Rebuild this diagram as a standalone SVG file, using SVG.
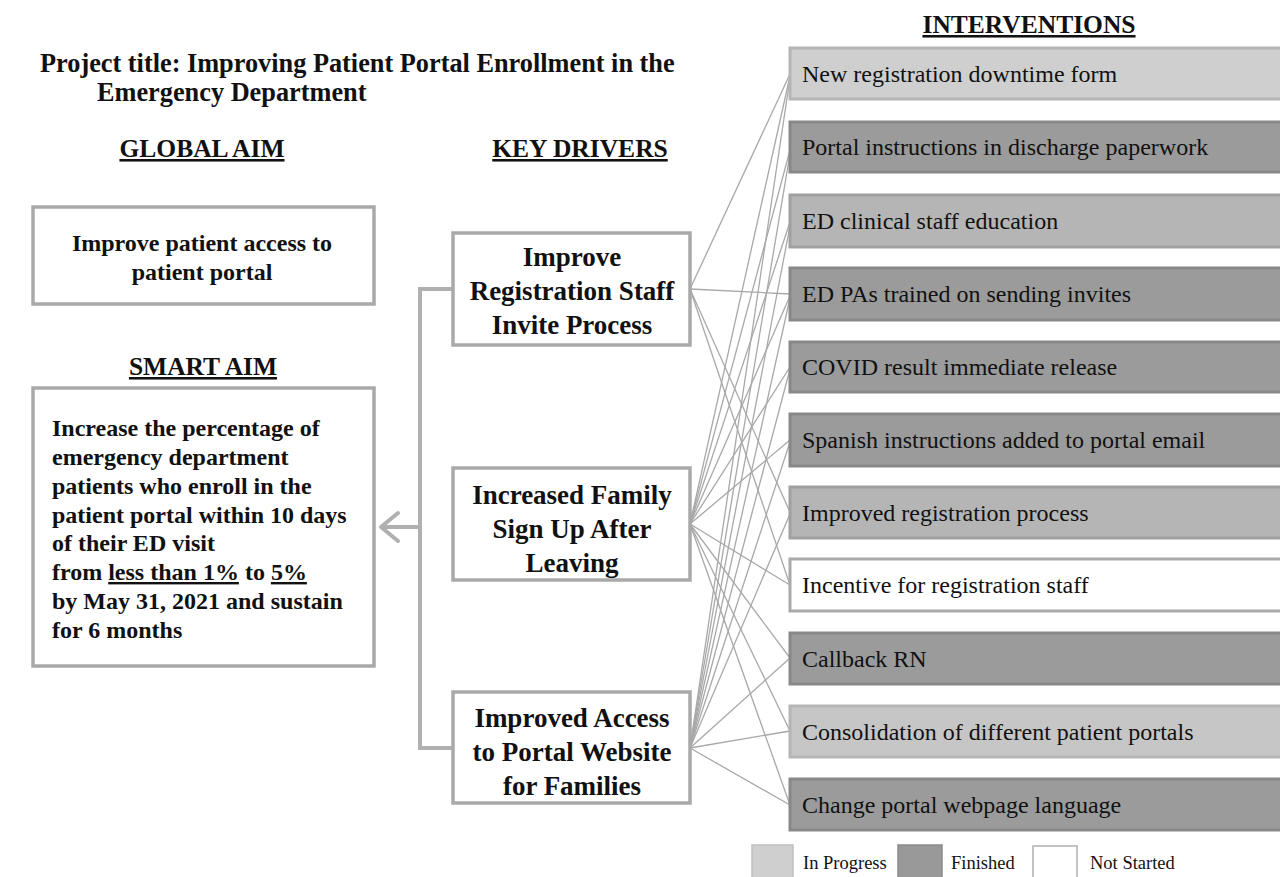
<svg xmlns="http://www.w3.org/2000/svg" width="1280" height="877" viewBox="0 0 1280 877">
<style>
.t{font-family:"Liberation Serif","Times New Roman","DejaVu Serif",serif;fill:#111}
.b{font-weight:bold}
.u{text-decoration:underline}
.hdr{font-family:"Liberation Serif","Times New Roman",serif;font-weight:bold;font-size:25.5px;fill:#111;text-decoration:underline;text-anchor:middle}
.box{fill:#fff;stroke:#a9a9a9;stroke-width:3.5}
.drv{font-family:"Liberation Serif","Times New Roman",serif;font-weight:bold;font-size:27px;fill:#111;text-anchor:middle}
.aim{font-family:"Liberation Serif","Times New Roman",serif;font-weight:bold;font-size:24px;fill:#111}
.iv{font-family:"Liberation Serif","Times New Roman",serif;font-size:24px;fill:#111}
.ip{fill:#cfcfcf;stroke:#b5b5b5;stroke-width:3}
.ip2{fill:#b5b5b5;stroke:#a0a0a0;stroke-width:3}
.fin{fill:#9b9b9b;stroke:#888;stroke-width:3}
.ns{fill:#fff;stroke:#a9a9a9;stroke-width:3}
.con line{stroke:#a8a8a8;stroke-width:1.3}
.lg{font-family:"Liberation Serif","Times New Roman",serif;font-size:18.5px;fill:#111}
</style>
<rect width="1280" height="877" fill="#fff"/>

<g id="title">
<text class="t b" x="40" y="72" font-size="26.3">Project title: Improving Patient Portal Enrollment in the</text>
<text class="t b" x="97" y="101" font-size="26.3">Emergency Department</text>
</g>
<text class="hdr" x="202" y="157">GLOBAL AIM</text>
<text class="hdr" x="580" y="157">KEY DRIVERS</text>
<text class="hdr" x="1029" y="33">INTERVENTIONS</text>
<text class="hdr" x="203" y="375">SMART AIM</text>

<g id="connectors" class="con">
<path d="M453,289 H420 V748 H453" fill="none" stroke="#b0b0b0" stroke-width="4"/>
<path d="M420,527 H382" fill="none" stroke="#b0b0b0" stroke-width="4"/>
<path d="M398,513 L381,527 L398,541" fill="none" stroke="#b0b0b0" stroke-width="4" stroke-linejoin="round" stroke-linecap="round"/>
<!-- driver 1 -->
<line x1="690" y1="289" x2="790" y2="74"/>
<line x1="690" y1="289" x2="790" y2="294"/>
<line x1="690" y1="289" x2="790" y2="512"/>
<line x1="690" y1="289" x2="790" y2="585"/>
<!-- driver 2 -->
<line x1="690" y1="524" x2="790" y2="76"/>
<line x1="690" y1="524" x2="790" y2="150"/>
<line x1="690" y1="524" x2="790" y2="222"/>
<line x1="690" y1="524" x2="790" y2="296"/>
<line x1="690" y1="524" x2="790" y2="367"/>
<line x1="690" y1="524" x2="790" y2="440"/>
<line x1="690" y1="524" x2="790" y2="585"/>
<line x1="690" y1="524" x2="790" y2="658"/>
<line x1="690" y1="524" x2="790" y2="731"/>
<line x1="690" y1="524" x2="790" y2="805"/>
<!-- driver 3 -->
<line x1="690" y1="748" x2="790" y2="78"/>
<line x1="690" y1="748" x2="790" y2="154"/>
<line x1="690" y1="748" x2="790" y2="226"/>
<line x1="690" y1="748" x2="790" y2="298"/>
<line x1="690" y1="748" x2="790" y2="369"/>
<line x1="690" y1="748" x2="790" y2="442"/>
<line x1="690" y1="748" x2="790" y2="514"/>
<line x1="690" y1="748" x2="790" y2="658"/>
<line x1="690" y1="748" x2="790" y2="731"/>
<line x1="690" y1="748" x2="790" y2="805"/>
</g>

<g id="global-aim">
<rect class="box" x="33" y="207" width="341" height="97"/>
<text class="aim" x="202" y="251" text-anchor="middle">Improve patient access to</text>
<text class="aim" x="202" y="280" text-anchor="middle">patient portal</text>
</g>

<g id="smart-aim">
<rect class="box" x="33" y="388" width="341" height="278"/>
<text class="aim" x="52" y="436">Increase the percentage of</text>
<text class="aim" x="52" y="465">emergency department</text>
<text class="aim" x="52" y="494">patients who enroll in the</text>
<text class="aim" x="52" y="523">patient portal within 10 days</text>
<text class="aim" x="52" y="551">of their ED visit</text>
<text class="aim" x="52" y="580">from <tspan class="u">less than 1%</tspan> to <tspan class="u">5%</tspan></text>
<text class="aim" x="52" y="609">by May 31, 2021 and sustain</text>
<text class="aim" x="52" y="638">for 6 months</text>
</g>

<g id="driver-1">
<rect class="box" x="453" y="233" width="237" height="112"/>
<text class="drv" x="572" y="266">Improve</text>
<text class="drv" x="572" y="300">Registration Staff</text>
<text class="drv" x="572" y="334">Invite Process</text>
</g>
<g id="driver-2">
<rect class="box" x="453" y="468" width="237" height="112"/>
<text class="drv" x="572" y="504">Increased Family</text>
<text class="drv" x="572" y="538">Sign Up After</text>
<text class="drv" x="572" y="572">Leaving</text>
</g>
<g id="driver-3">
<rect class="box" x="453" y="692" width="237" height="111"/>
<text class="drv" x="572" y="727">Improved Access</text>
<text class="drv" x="572" y="761">to Portal Website</text>
<text class="drv" x="572" y="795">for Families</text>
</g>

<g id="iv-1"><rect class="ip" x="790" y="48" width="500" height="51"/><text class="iv" x="802" y="82">New registration downtime form</text></g>
<g id="iv-2"><rect class="fin" x="790" y="122" width="500" height="50"/><text class="iv" x="802" y="155">Portal instructions in discharge paperwork</text></g>
<g id="iv-3"><rect class="ip2" x="790" y="195" width="500" height="52"/><text class="iv" x="802" y="229">ED clinical staff education</text></g>
<g id="iv-4"><rect class="fin" x="790" y="268" width="500" height="52"/><text class="iv" x="802" y="302">ED PAs trained on sending invites</text></g>
<g id="iv-5"><rect class="fin" x="790" y="342" width="500" height="50"/><text class="iv" x="802" y="375">COVID result immediate release</text></g>
<g id="iv-6"><rect class="fin" x="790" y="414" width="500" height="52"/><text class="iv" x="802" y="448">Spanish instructions added to portal email</text></g>
<g id="iv-7"><rect class="ip2" x="790" y="487" width="500" height="51"/><text class="iv" x="802" y="521">Improved registration process</text></g>
<g id="iv-8"><rect class="ns" x="790" y="559" width="500" height="52"/><text class="iv" x="802" y="593">Incentive for registration staff</text></g>
<g id="iv-9"><rect class="fin" x="790" y="633" width="500" height="51"/><text class="iv" x="802" y="667">Callback RN</text></g>
<g id="iv-10"><rect class="ip" x="790" y="706" width="500" height="51" style="fill:#c6c6c6"/><text class="iv" x="802" y="740">Consolidation of different patient portals</text></g>
<g id="iv-11"><rect class="fin" x="790" y="779" width="500" height="51"/><text class="iv" x="802" y="813">Change portal webpage language</text></g>

<g id="legend">
<rect x="752" y="845" width="41" height="40" fill="#cfcfcf" stroke="#c0c0c0" stroke-width="1.5"/>
<text class="lg" x="803" y="869">In Progress</text>
<rect x="898" y="845" width="44" height="40" fill="#999" stroke="#8a8a8a" stroke-width="1.5"/>
<text class="lg" x="951" y="869">Finished</text>
<rect x="1033" y="846" width="44" height="40" fill="#fff" stroke="#b0b0b0" stroke-width="1.5"/>
<text class="lg" x="1090" y="869">Not Started</text>
</g>
</svg>
